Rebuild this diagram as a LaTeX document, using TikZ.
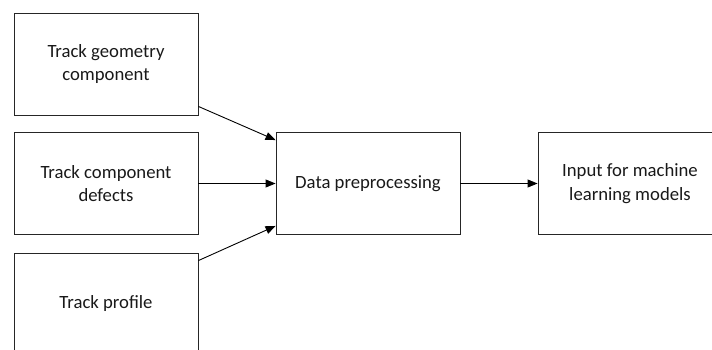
\documentclass[tikz,border=0pt]{standalone}
\usepackage{fontspec}
\setmainfont{Carlito}
\usetikzlibrary{arrows.meta}
\begin{document}
\begin{tikzpicture}[x=1pt,y=-1pt,
  box/.style={draw=black!85,line width=0.9pt,minimum width=184pt,minimum height=102pt,
    inner sep=0pt,align=center,font=\fontsize{18.7}{23.5}\selectfont,text=black!90},
  conn/.style={draw=black,line width=0.9pt,-{Triangle[length=10pt,width=8pt]}}]
\useasboundingbox (0,0) rectangle (712,349);
\clip (0,0) rectangle (712,349);
\node[box] (b1) at (106,64) {Track geometry\\component};
\node[box] (b2) at (106,183.5) {Track component\\defects};
\node[box] (b3) at (106,304) {Track profile};
\node[box] (dp) at (368,183.5) {Data preprocessing};
\node[box] (ml) at (630,183.5) {Input for machine\\learning models};
\draw[conn] ([yshift=9pt]b1.south east) -- ([yshift=-8pt]dp.north west);
\draw[conn] (b2.east) -- (dp.west);
\draw[conn] ([yshift=-8pt]b3.north east) -- ([yshift=9pt]dp.south west);
\draw[conn] (dp.east) -- (ml.west);
\end{tikzpicture}
\end{document}
